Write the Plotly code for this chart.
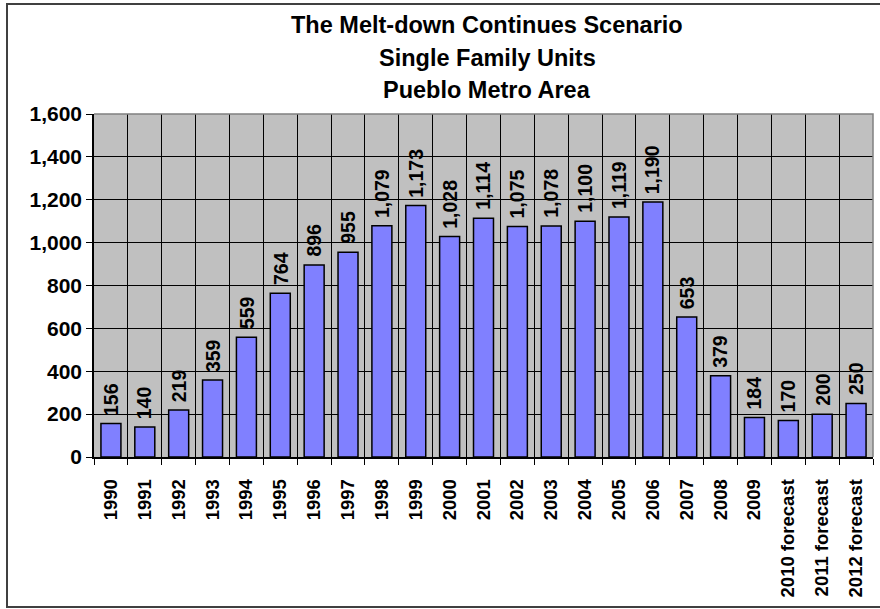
import plotly.graph_objects as go

# Annual single family unit permits, Pueblo metro area
years = ["1990", "1991", "1992", "1993", "1994", "1995", "1996", "1997",
         "1998", "1999", "2000", "2001", "2002", "2003", "2004", "2005",
         "2006", "2007", "2008", "2009", "2010 forecast", "2011 forecast",
         "2012 forecast"]
units = [156, 140, 219, 359, 559, 764, 896, 955, 1079, 1173, 1028, 1114,
         1075, 1078, 1100, 1119, 1190, 653, 379, 184, 170, 200, 250]

title_lines = ["The Melt-down Continues Scenario",
               "Single Family Units",
               "Pueblo Metro Area"]

y_min, y_max, y_step = 0, 1600, 200

FONT = "Arial, Liberation Sans, sans-serif"

W, H = 880, 609
L, R, T, B = 94, 7, 114, 152
plot_w = W - L - R
plot_h = H - T - B


def px_x(px):
    return (px - L) / plot_w


def px_y(py):
    return (H - B - py) / plot_h


fig = go.Figure()
fig.add_trace(go.Bar(
    x=years,
    y=units,
    marker=dict(color="#8080FF", line=dict(color="#000000", width=1.5)),
    hoverinfo="skip",
))

annotations = []

# Value labels above each bar, reading upward (x given as category index)
for idx, val in enumerate(units):
    annotations.append(dict(
        text=f"{val:,}", x=idx, y=val, xref="x", yref="y",
        xanchor="center", yanchor="bottom", textangle=-90,
        yshift=6, showarrow=False,
        font=dict(family=FONT, size=19.5, color="#000000", weight="bold"),
    ))

# Title lines
for i, line in enumerate(title_lines):
    annotations.append(dict(
        text=line, xref="paper", yref="paper",
        x=px_x(487), y=px_y(25.5 + 32 * i),
        xanchor="center", yanchor="middle", showarrow=False,
        font=dict(family=FONT, size=23.5, color="#000000", weight="bold"),
    ))

shapes = [
    # chart border (top, left, bottom)
    dict(type="path", xref="paper", yref="paper",
         path=f"M {px_x(890)} {px_y(4)} L {px_x(7)} {px_y(4)} "
              f"L {px_x(7)} {px_y(607)} L {px_x(890)} {px_y(607)}",
         line=dict(color="#404040", width=2), layer="above"),
    # plot area frame (top, right)
    dict(type="path", xref="paper", yref="paper",
         path="M 0 1 L 1 1 L 1 0",
         line=dict(color="#808080", width=1.5), layer="above"),
]

fig.update_layout(
    width=W, height=H,
    margin=dict(l=L, r=R, t=T, b=B, pad=0),
    paper_bgcolor="#FFFFFF",
    plot_bgcolor="#C0C0C0",
    bargap=0.41,
    showlegend=False,
    annotations=annotations,
    shapes=shapes,
    font=dict(family=FONT, color="#000000"),
)

fig.update_xaxes(
    type="category",
    range=[-0.5, len(years) - 0.5],
    tickson="boundaries",
    showgrid=True, gridcolor="#000000", gridwidth=1,
    showline=True, linecolor="#000000", linewidth=1.5,
    ticks="outside", ticklen=6, tickcolor="#000000", tickwidth=1,
    tickangle=-90,
    ticklabelstandoff=13,
    tickfont=dict(family=FONT, size=18.5, color="#000000", weight="bold"),
)

fig.update_yaxes(
    range=[y_min, y_max],
    dtick=y_step,
    tickformat=",d",
    showgrid=True, gridcolor="#000000", gridwidth=1,
    zeroline=False,
    showline=True, linecolor="#000000", linewidth=1.5,
    ticks="outside", ticklen=6, tickcolor="#000000", tickwidth=1,
    tickfont=dict(family=FONT, size=21, color="#000000", weight="bold"),
)

fig.write_html("out.html")
